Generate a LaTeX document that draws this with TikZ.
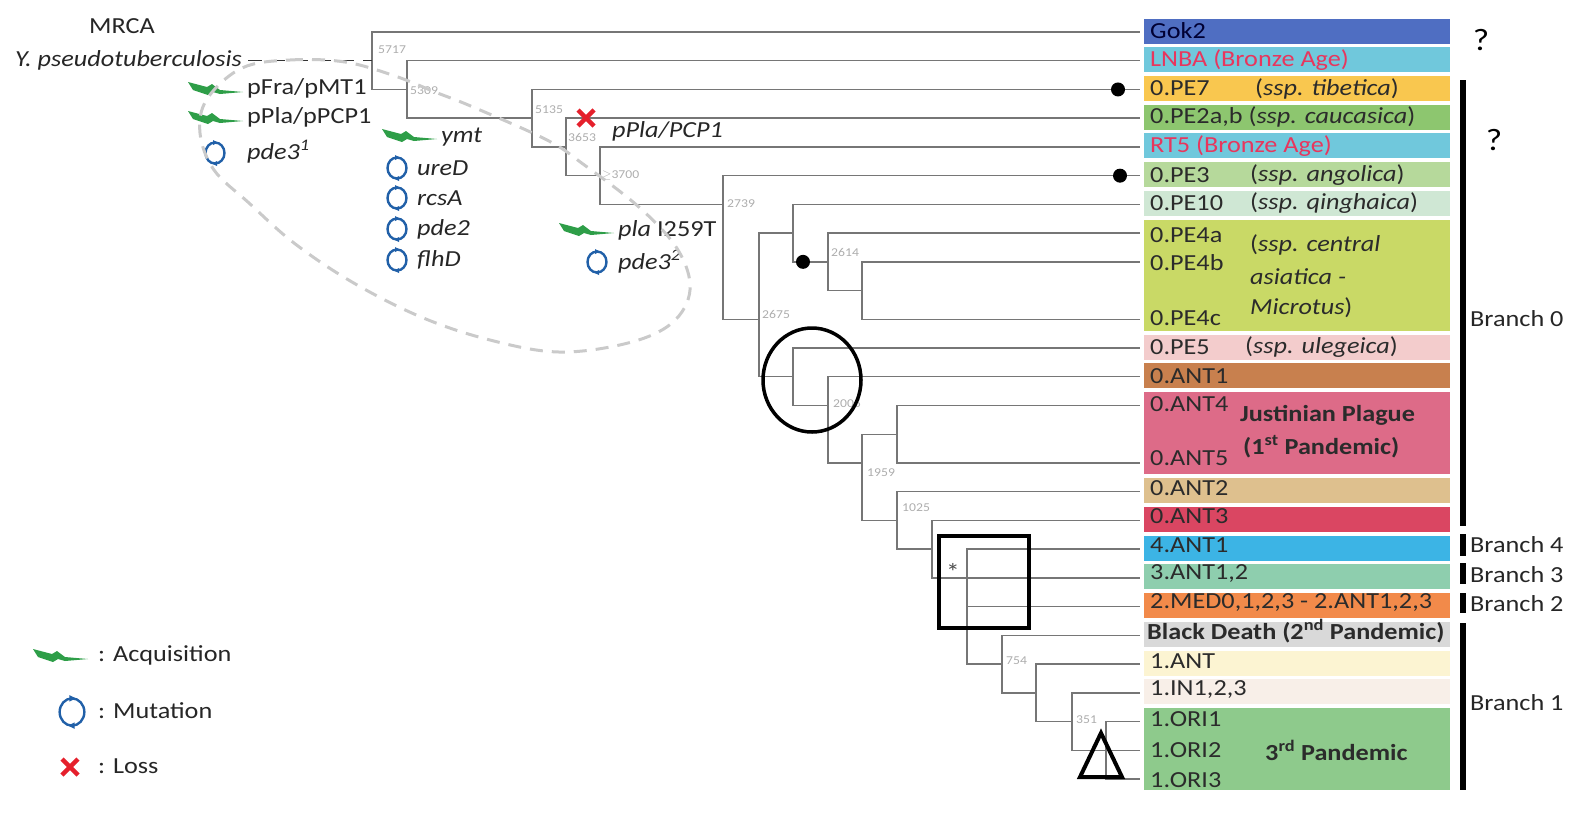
\documentclass[tikz,border=0pt]{standalone}
\usepackage{fontspec}
\setmainfont{Carlito}[FakeStretch=1.14]
\usetikzlibrary{arrows,calc,positioning}

\definecolor{treegrey}{HTML}{767676}
\definecolor{agegrey}{HTML}{ADADAD}
\definecolor{hullgrey}{HTML}{CACACA}
\definecolor{tiptext}{HTML}{2B2B2B}
\definecolor{bronzered}{HTML}{E8365D}
\definecolor{acqgreen}{HTML}{2E9E48}
\definecolor{mutblue}{HTML}{2160A8}
\definecolor{lossred}{HTML}{E5202C}
\definecolor{cGok}{HTML}{4F6EC2}
\definecolor{cLNBA}{HTML}{70C8DC}
\definecolor{cPEseven}{HTML}{F9C74F}
\definecolor{cPEtwo}{HTML}{8DC66F}
\definecolor{cPEthree}{HTML}{B6D99B}
\definecolor{cPEten}{HTML}{CFE7D4}
\definecolor{cPEfour}{HTML}{C9D966}
\definecolor{cPEfive}{HTML}{F3CCCC}
\definecolor{cANTone}{HTML}{C8804E}
\definecolor{cANTfour}{HTML}{DD6B88}
\definecolor{cANTtwo}{HTML}{DEC08E}
\definecolor{cANTthree}{HTML}{DA4662}
\definecolor{cBfour}{HTML}{3CB4E5}
\definecolor{cBthree}{HTML}{8ECEAE}
\definecolor{cBtwo}{HTML}{F28A4A}
\definecolor{cBD}{HTML}{D9D9D9}
\definecolor{cBoneANT}{HTML}{FCF4D2}
\definecolor{cBoneIN}{HTML}{F8EFE8}
\definecolor{cORI}{HTML}{8ECA8C}

\begin{document}
\begin{tikzpicture}[x=1pt,y=-1pt,>=stealth',
	branch/.style={draw=treegrey,line width=1.4pt},
	tiplab/.style={anchor=west,inner sep=0pt,font=\fontsize{23}{23}\selectfont,text=tiptext},
	agelab/.style={anchor=west,inner sep=0pt,font=\fontsize{12}{12}\selectfont,text=agegrey},
	annot/.style={anchor=west,inner sep=0pt,font=\fontsize{23}{23}\selectfont,text=black!85},
	gene/.style={annot,font=\fontsize{23}{23}\selectfont\itshape},
	bar/.style={draw=black,line width=6.5pt},
	marker/.style={draw=black,line width=3.5pt},
	acq/.pic={\fill[acqgreen] (-55,-10) -- (-36,-5) -- (-31,-8) -- (-23,-2) -- (0,0)
		-- (-23,2) -- (-30,0) -- (-35,3) -- (-50,-2) -- cycle;},
	mut/.pic={\draw[mutblue,line width=2.4pt] (0,0) ellipse (9.5 and 10.5);
		\fill[mutblue] (-2,-13) -- (3,-10.5) -- (-2,-8) -- cycle;
		\fill[mutblue] (2,13) -- (-3,10.5) -- (2,8) -- cycle;},
	loss/.pic={\draw[lossred,line width=4.5pt] (-8,-8) -- (8,8) (-8,8) -- (8,-8);}
	]
	\useasboundingbox (0,0) rectangle (1573,823);

	% tips, one per row
	\foreach \i in {0,...,26}
		\coordinate (t\i) at (1140,{32+28.73*\i});

	% clade boxes
	\foreach \a/\b/\c in {0/0/cGok,1/1/cLNBA,2/2/cPEseven,3/3/cPEtwo,4/4/cLNBA,5/5/cPEthree,
		6/6/cPEten,7/10/cPEfour,11/11/cPEfive,12/12/cANTone,13/15/cANTfour,16/16/cANTtwo,
		17/17/cANTthree,18/18/cBfour,19/19/cBthree,20/20/cBtwo,21/21/cBD,22/22/cBoneANT,
		23/23/cBoneIN,24/26/cORI}
		\fill[\c] ($(t\a)+(4,-13.5)$) rectangle ($(t\b)+(310,11.5)$);

	% internal nodes
	\coordinate (n5717) at (372,0 |- t1);
	\coordinate (n5309) at (407,0 |- t2);
	\coordinate (n5135) at (532,0 |- t3);
	\coordinate (n3653) at (566,0 |- t4);
	\coordinate (n3700) at (600,0 |- t5);
	\coordinate (n2739) at (723,0 |- t6);
	\coordinate (n2675) at (759,0 |- t10);
	\coordinate (nPEten) at (793,0 |- t7);
	\coordinate (n2614) at (828,0 |- t8);
	\coordinate (nPEfour) at (862,0 |- t9);
	\coordinate (nPEfive) at (793,0 |- t12);
	\coordinate (n2005) at (828,0 |- t13);
	\coordinate (n1959) at (862,0 |- t15);
	\coordinate (nANTfour) at (897,0 |- t14);
	\coordinate (n1025) at (897,0 |- t17);
	\coordinate (nANTthree) at (932,0 |- t18);
	\coordinate (nstar) at (967,0 |- t19);
	\coordinate (n754) at (1002,0 |- t22);
	\coordinate (nIN) at (1036,0 |- t23);
	\coordinate (n351) at (1072,0 |- t24);
	\coordinate (nORI) at (1106,0 |- t25);

	% branches
	\draw[branch] (n5717) |- (t0) (n5717) |- (n5309);
	\draw[branch] (n5309) |- (t1) (n5309) |- (n5135);
	\draw[branch] (n5135) |- (t2) (n5135) |- (n3653);
	\draw[branch] (n3653) |- (t3) (n3653) |- (n3700);
	\draw[branch] (n3700) |- (t4) (n3700) |- (n2739);
	\draw[branch] (n2739) |- (t5) (n2739) |- (n2675);
	\draw[branch] (n2675) |- (nPEten) (n2675) |- (nPEfive);
	\draw[branch] (nPEten) |- (t6) (nPEten) |- (n2614);
	\draw[branch] (n2614) |- (t7) (n2614) |- (nPEfour);
	\draw[branch] (nPEfour) |- (t8) (nPEfour) |- (t10);
	\draw[branch] (nPEfive) |- (t11) (nPEfive) |- (n2005);
	\draw[branch] (n2005) |- (t12) (n2005) |- (n1959);
	\draw[branch] (n1959) |- (nANTfour) (n1959) |- (n1025);
	\draw[branch] (nANTfour) |- (t13) (nANTfour) |- (t15);
	\draw[branch] (n1025) |- (t16) (n1025) |- (nANTthree);
	\draw[branch] (nANTthree) |- (t17) (nANTthree) |- (nstar);
	\draw[branch] (nstar) |- (t18) (nstar) |- (t19) (nstar) |- (t20) (nstar) |- (n754);
	\draw[branch] (n754) |- (t21) (n754) |- (nIN);
	\draw[branch] (nIN) |- (t22) (nIN) |- (n351);
	\draw[branch] (n351) |- (t23) (n351) |- (nORI);
	\draw[branch] (nORI) |- (t24) (nORI) |- (t25) (nORI) |- (t26);

	% ages
	\node[agelab] at ($(n5717)+(6,-11)$) {5717};
	\node[agelab] at ($(n5309)+(3,1)$) {5309};
	\node[agelab] at ($(n5135)+(3,-9)$) {5135};
	\node[agelab] at ($(n3653)+(2,-9)$) {3653};
	\node[agelab] at ($(n3700)+(2,0)$) {$\geq$3700};
	\node[agelab] at ($(n2739)+(4,-1)$) {2739};
	\node[agelab] at ($(n2614)+(3,-9)$) {2614};
	\node[agelab] at ($(n2675)+(3,-5)$) {2675};
	\node[agelab] at ($(n2005)+(5,-2)$) {2005};
	\node[agelab] at ($(n1959)+(5,10)$) {1959};
	\node[agelab] at ($(n1025)+(5,-13)$) {1025};
	\node[agelab,text=black!70,anchor=center,font=\fontsize{24}{24}\selectfont] at ($(nstar)+(-14,-6)$) {*};
	\node[agelab] at ($(n754)+(4,-3)$) {754};
	\node[agelab] at ($(n351)+(4,-2)$) {351};

	% dots, circle, square, triangle
	\fill (1118,0 |- t2) circle (7);
	\fill (1120,0 |- t5) circle (7);
	\fill (803,0 |- t8) circle (7);
	\draw[marker] (812,380) ellipse (49 and 52);
	\draw[marker,line width=4pt] (939,536) rectangle (1029,628);
	\draw[marker,line width=4pt] (1101,733) -- (1122,777) -- (1080,777) -- cycle;

	% tip labels
	\node[tiplab,text=black!80!blue] (lGok) at ($(t0)+(10,-1)$) {Gok2};
	\node[tiplab,text=bronzered] (lLNBA) at ($(t1)+(10,-1)$) {LNBA (Bronze Age)};
	\node[tiplab] (lPEseven) at ($(t2)+(10,-1)$) {0.PE7};
	\node[tiplab] at ($(t2)+(115,-1)$) {(\textit{ssp. tibetica})};
	\node[tiplab] (lPEtwo) at ($(t3)+(10,-1)$) {0.PE2a,b (\textit{ssp. caucasica})};
	\node[tiplab,text=bronzered] (lRT) at ($(t4)+(10,-1)$) {RT5 (Bronze Age)};
	\node[tiplab] (lPEthree) at ($(t5)+(10,-1)$) {0.PE3};
	\node[tiplab] at ($(t5)+(110,-1)$) {(\textit{ssp. angolica})};
	\node[tiplab] (lPEten) at ($(t6)+(10,-1)$) {0.PE10};
	\node[tiplab] at ($(t6)+(110,-1)$) {(\textit{ssp. qinghaica})};
	\node[tiplab] (lPEfoura) at ($(t7)+(10,2)$) {0.PE4a};
	\node[tiplab] (lPEfourb) at ($(t8)+(10,1)$) {0.PE4b};
	\node[tiplab] (lPEfourc) at ($(t10)+(10,-1)$) {0.PE4c};
	\node[tiplab] at (1250,245) {(\textit{ssp. central}};
	\node[tiplab] at (1250,277) {\textit{asiatica -}};
	\node[tiplab] at (1250,308) {\textit{Microtus})};
	\node[tiplab] (lPEfive) at ($(t11)+(10,-1)$) {0.PE5};
	\node[tiplab] at ($(t11)+(105,-1)$) {(\textit{ssp. ulegeica})};
	\node[tiplab] (lANTone) at ($(t12)+(10,-1)$) {0.ANT1};
	\node[tiplab] (lANTfour) at ($(t13)+(10,-1)$) {0.ANT4};
	\node[tiplab] (lANTfive) at ($(t15)+(10,-5)$) {0.ANT5};
	\node[tiplab,font=\fontsize{23}{23}\selectfont\bfseries] at (1240,415) {Justinian Plague};
	\node[tiplab,font=\fontsize{23}{23}\selectfont\bfseries] at (1243,447) {(1\textsuperscript{st} Pandemic)};
	\node[tiplab] (lANTtwo) at ($(t16)+(10,-4)$) {0.ANT2};
	\node[tiplab] (lANTthree) at ($(t17)+(10,-4)$) {0.ANT3};
	\node[tiplab] (lBfour) at ($(t18)+(10,-4)$) {4.ANT1};
	\node[tiplab] (lBthree) at ($(t19)+(10,-4)$) {3.ANT1,2};
	\node[tiplab] (lBtwo) at ($(t20)+(10,-4)$) {2.MED0,1,2,3 - 2.ANT1,2,3};
	\node[tiplab,font=\fontsize{23}{23}\selectfont\bfseries] (lBD) at ($(t21)+(7,-4)$) {Black Death (2\textsuperscript{nd} Pandemic)};
	\node[tiplab] (lBoneANT) at ($(t22)+(10,-3)$) {1.ANT};
	\node[tiplab] (lBoneIN) at ($(t23)+(10,-3)$) {1.IN1,2,3};
	\node[tiplab] (lORIone) at ($(t24)+(10,-2)$) {1.ORI1};
	\node[tiplab] (lORItwo) at ($(t25)+(10,0)$) {1.ORI2};
	\node[tiplab] (lORIthree) at ($(t26)+(10,1)$) {1.ORI3};
	\node[tiplab,font=\fontsize{23}{23}\selectfont\bfseries] at (1265,750) {3\textsuperscript{rd} Pandemic};

	% branches of the population
	\node[font=\fontsize{31}{31}\selectfont] (qone) at (1481,40) {?};
	\node[font=\fontsize{31}{31}\selectfont] (qtwo) at (1494,140) {?};
	\draw[bar] (1463,80) -- (1463,526);
	\draw[bar] (1463,534) -- (1463,556);
	\draw[bar] (1463,563) -- (1463,584);
	\draw[bar] (1463,593) -- (1463,613);
	\draw[bar] (1463,623) -- (1463,790);
	\node[annot] (bzero) at (1470,319) {Branch 0};
	\node[annot] (bfour) at (1470,545) {Branch 4};
	\node[annot] (bthree) at (1470,575) {Branch 3};
	\node[annot] (btwo) at (1470,604) {Branch 2};
	\node[annot] (bone) at (1470,703) {Branch 1};

	% root and events
	\node[annot,anchor=center] (mrca) at (122,26) {MRCA};
	\node[gene,anchor=east] (ypseudo) at (242,60) {Y. pseudotuberculosis};
	\draw[black!80,line width=1.5pt,dash pattern=on 14pt off 9pt] ([xshift=6pt]ypseudo.east |- n5717) -- (n5717);

	\pic at (243,92) {acq};
	\node[annot] (pfra) at (247,88) {pFra/pMT1};
	\pic at (243,121) {acq};
	\node[annot] (ppla) at (247,117) {pPla/pPCP1};
	\pic at (215,153) {mut};
	\node[gene] (pdeone) at (247,152) {pde3\textsuperscript{1}};
	\pic at (437,139) {acq};
	\node[gene] (ymt) at (441,137) {ymt};
	\pic at (397,168) {mut};
	\node[gene] (ureD) at (417,168) {ureD};
	\pic at (397,198) {mut};
	\node[gene] (rcsA) at (417,198) {rcsA};
	\pic at (397,229) {mut};
	\node[gene] (pdetwo) at (417,229) {pde2};
	\pic at (397,260) {mut};
	\node[gene] (flhD) at (417,260) {flhD};
	\pic at (586,118) {loss};
	\node[gene] (pplaloss) at (612,131) {pPla/PCP1};
	\pic at (614,233) {acq};
	\node[annot] (pla) at (618,230) {\textit{pla} I259T};
	\pic at (597,262) {mut};
	\node[gene] (pdethree) at (618,262) {pde3\textsuperscript{2}};

	% dashed hull
	\draw[hullgrey,line width=3pt,dash pattern=on 13pt off 9pt]
		plot[smooth cycle,tension=0.6] coordinates {(242,68) (290,60) (345,62) (395,76) (435,92)
		(473,107) (547,140) (583,164) (640,208) (678,250) (690,290) (672,323) (628,343)
		(559,352) (490,340) (421,317) (352,282) (294,243) (249,203) (214,170) (200,133) (207,99)};

	% legend
	\pic at (88,659) {acq};
	\node[annot] (lacq) at (98,655) {: Acquisition};
	\pic[scale=1.3] at (72,712) {mut};
	\node[annot] (lmut) at (98,711) {: Mutation};
	\pic at (70,767) {loss};
	\node[annot] (lloss) at (98,766) {: Loss};
\end{tikzpicture}
\end{document}
